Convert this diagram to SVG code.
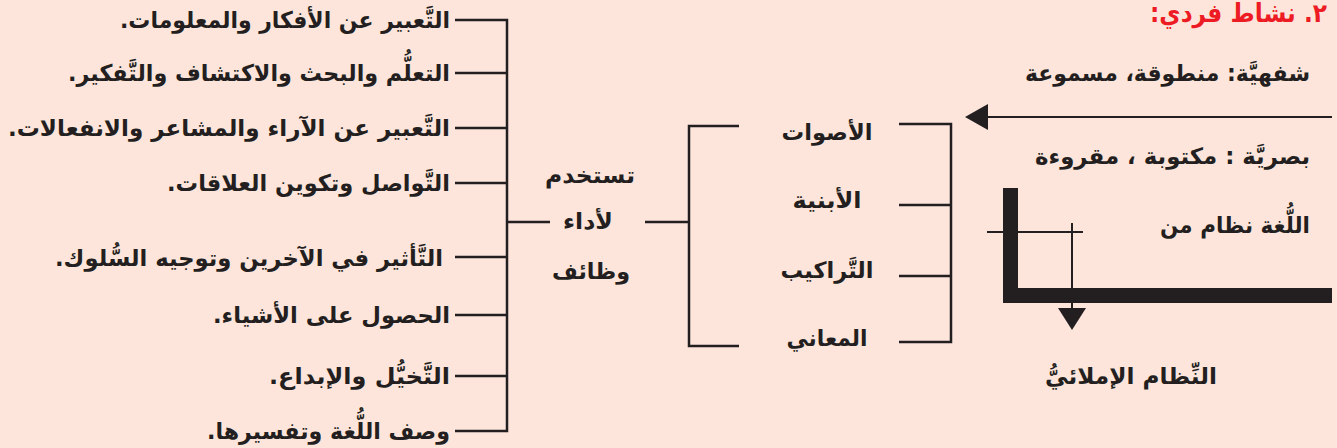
<svg xmlns="http://www.w3.org/2000/svg" width="1337" height="448" viewBox="0 0 1337 448">
<style>
text{font-family:"DejaVu Sans",sans-serif;font-weight:bold;fill:#231f20;direction:rtl;unicode-bidi:embed}
.l{font-size:23px;text-anchor:start}
.c{font-size:22.5px;text-anchor:middle}
.r{font-size:22.5px;text-anchor:start}
.t{font-size:26px;fill:#ed1c24;text-anchor:start}
.ln{stroke:#231f20;stroke-width:2.5;fill:none}
.th{stroke:#231f20;stroke-width:2;fill:none}
</style>
<rect width="1337" height="448" fill="#fde5db"/>
<g id="connectors">
<path class="ln" d="M455 20H507V431H455M455 73H507M455 128H507M455 183H507M455 257H507M455 315H507M455 376H507M507 222H550"/>
<path class="ln" d="M645 222H689M739 126H689V346H739"/>
<path class="ln" d="M899 124H951V342H899M899 205H951M899 276H951"/>
<path class="th" d="M1332 117H986"/>
<polygon points="965,117 988,104 988,130" fill="#231f20"/>
<rect x="1003" y="188" width="15" height="115" fill="#231f20"/>
<rect x="1003" y="288" width="329" height="15" fill="#231f20"/>
<path class="th" d="M987 232H1083M1072 223V310"/>
<polygon points="1058,308 1086,308 1072,330" fill="#231f20"/>
</g>
<g id="title"><text class="t" x="1327" y="22" textLength="177" lengthAdjust="spacingAndGlyphs">٢. نشاط فردي:</text></g>
<g id="oral"><text class="r" x="1310" y="81" textLength="285" lengthAdjust="spacingAndGlyphs">شفهيَّة: منطوقة، مسموعة</text></g>
<g id="visual"><text class="r" x="1310" y="164" textLength="275" lengthAdjust="spacingAndGlyphs">بصريَّة : مكتوبة ، مقروءة</text></g>
<g id="system"><text class="r" x="1310" y="233" textLength="150" lengthAdjust="spacingAndGlyphs">اللُّغة نظام من</text></g>
<g id="spelling"><text class="c" x="1131" y="384" textLength="172" lengthAdjust="spacingAndGlyphs">النِّظام الإملائيُّ</text></g>
<g id="sounds"><text class="c" x="827" y="140" textLength="91" lengthAdjust="spacingAndGlyphs">الأصوات</text></g>
<g id="structures"><text class="c" x="827" y="208" textLength="69" lengthAdjust="spacingAndGlyphs">الأبنية</text></g>
<g id="syntax"><text class="c" x="827" y="278" textLength="93" lengthAdjust="spacingAndGlyphs">التَّراكيب</text></g>
<g id="meanings"><text class="c" x="827" y="346" textLength="81" lengthAdjust="spacingAndGlyphs">المعاني</text></g>
<g id="uses">
<text class="c" x="590" y="183" textLength="90" lengthAdjust="spacingAndGlyphs">تستخدم</text>
<text class="c" x="588" y="229" textLength="50" lengthAdjust="spacingAndGlyphs">لأداء</text>
<text class="c" x="591" y="279" textLength="78" lengthAdjust="spacingAndGlyphs">وظائف</text>
</g>
<g id="f1"><text class="l" x="450" y="28" textLength="330" lengthAdjust="spacingAndGlyphs">التَّعبير عن الأفكار والمعلومات.</text></g>
<g id="f2"><text class="l" x="450" y="81" textLength="382" lengthAdjust="spacingAndGlyphs">التعلُّم والبحث والاكتشاف والتَّفكير.</text></g>
<g id="f3"><text class="l" x="450" y="136" textLength="442" lengthAdjust="spacingAndGlyphs">التَّعبير عن الآراء والمشاعر  والانفعالات.</text></g>
<g id="f4"><text class="l" x="450" y="191" textLength="283" lengthAdjust="spacingAndGlyphs">التَّواصل وتكوين العلاقات.</text></g>
<g id="f5"><text class="l" x="443" y="266" textLength="388" lengthAdjust="spacingAndGlyphs">التَّأثير في الآخرين وتوجيه السُّلوك.</text></g>
<g id="f6"><text class="l" x="450" y="323" textLength="237" lengthAdjust="spacingAndGlyphs">الحصول على الأشياء.</text></g>
<g id="f7"><text class="l" x="450" y="384" textLength="181" lengthAdjust="spacingAndGlyphs">التَّخيُّل والإبداع.</text></g>
<g id="f8"><text class="l" x="450" y="439" textLength="243" lengthAdjust="spacingAndGlyphs">وصف اللُّغة وتفسيرها.</text></g>
</svg>
